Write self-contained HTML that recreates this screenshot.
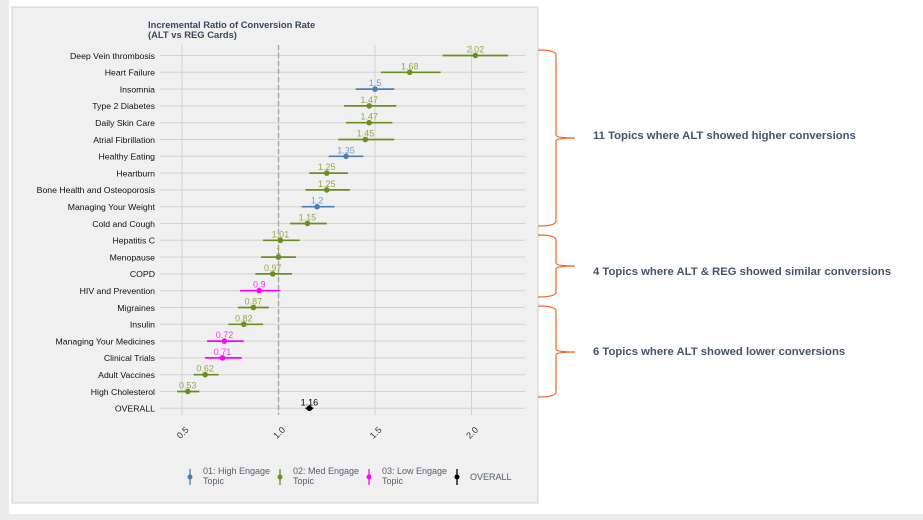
<!DOCTYPE html>
<html><head><meta charset="utf-8"><style>
body{margin:0;background:#fff;width:923px;height:520px;overflow:hidden;font-family:"Liberation Sans",sans-serif}
</style></head><body>
<svg id="c" width="923" height="520" style="position:absolute;left:0;top:0">
<rect x="0" y="0" width="923" height="520" fill="#fff"/>
<rect x="0" y="0" width="9" height="520" fill="#ececec"/>
<rect x="0" y="514" width="923" height="6" fill="#ececec"/>
<rect x="12" y="7" width="526" height="496" fill="#f0f0f0" stroke="#d0d0d0"/>
<text x="148" y="28" font-size="9.4" font-weight="bold" fill="#3a4660">Incremental Ratio of Conversion Rate</text>
<text x="148" y="38" font-size="9.4" font-weight="bold" fill="#3a4660">(ALT vs REG Cards)</text>
<g id="grid"></g><g id="marks"></g><g id="labels"></g>
<g id="legend" font-size="9" fill="#556070"></g>
<g id="braces"></g>
</svg>
<script>
const categories=["Deep Vein thrombosis","Heart Failure","Insomnia","Type 2 Diabetes","Daily Skin Care","Atrial Fibrillation","Healthy Eating","Heartburn","Bone Health and Osteoporosis","Managing Your Weight","Cold and Cough","Hepatitis C","Menopause","COPD","HIV and Prevention","Migraines","Insulin","Managing Your Medicines","Clinical Trials","Adult Vaccines","High Cholesterol","OVERALL"];
const values=[2.02,1.68,1.5,1.47,1.47,1.45,1.35,1.25,1.25,1.2,1.15,1.01,1,0.97,0.9,0.87,0.82,0.72,0.71,0.62,0.53,1.16];
const lower=[1.85,1.53,1.40,1.34,1.35,1.31,1.26,1.16,1.14,1.12,1.06,0.92,0.91,0.88,0.80,0.79,0.74,0.63,0.62,0.56,0.475,1.14];
const upper=[2.19,1.84,1.60,1.61,1.59,1.60,1.44,1.36,1.37,1.29,1.25,1.11,1.09,1.07,1.01,0.95,0.92,0.82,0.81,0.69,0.59,1.18];
const groups=[2,2,1,2,2,2,1,2,2,1,2,2,2,2,3,2,2,3,3,2,2,0];
const xTicks=[0.5,1.0,1.5,2.0];
const xTickLabels=["0.5","1.0","1.5","2.0"];
const legendLabels=[["01: High Engage","Topic"],["02: Med Engage","Topic"],["03: Low Engage","Topic"],["OVERALL"]];
const colors={0:"#000",1:"#4a7fb5",2:"#6b8e23",3:"#ff00ff"};
const labelColors={0:"#000",1:"#6f9ccc",2:"#9aa645",3:"#ff33ff"};
const NS="http://www.w3.org/2000/svg";
const x=v=>182+(v-0.5)*193;
const y=i=>55.5+i*16.8;
function mk(p,t,a){const e=document.createElementNS(NS,t);for(const k in a)e.setAttribute(k,a[k]);document.getElementById(p).appendChild(e);return e;}
xTicks.forEach((t,i)=>{
 let l=mk('grid','line',{x1:x(t),x2:x(t),y1:45,y2:415,stroke:'#d2d2d2','stroke-width':1});
 
 
 let tx=mk('grid','text',{x:x(t),y:436,'font-size':9,fill:'#333','text-anchor':'middle',transform:`rotate(-45 ${x(t)} 432)`});
 tx.textContent=xTickLabels[i];
 
 
});
categories.forEach((c,i)=>{
 let l=mk('grid','line',{x1:160,x2:525,y1:y(i),y2:y(i),stroke:'#d2d2d2','stroke-width':1});
 
 
 let t=mk('labels','text',{x:155,y:y(i)+3.3,'font-size':8.7,fill:'#111','text-anchor':'end'});
 t.textContent=c;
 
 
});
let ref=mk('grid','line',{x1:x(1),x2:x(1),y1:45,y2:415,stroke:'#aaa','stroke-width':1.5,'stroke-dasharray':'5,3'});


values.forEach((v,i)=>{
 const g=groups[i];
 let b=mk('marks','line',{x1:x(lower[i]),x2:x(upper[i]),y1:y(i),y2:y(i),stroke:colors[g],'stroke-width':1.7});
 
 
 let d=mk('marks','circle',{cx:x(v),cy:y(i),r:2.8,fill:colors[g]});
 
 
 let t=mk('marks','text',{x:x(v),y:y(i)-3,'font-size':9,fill:labelColors[g],'text-anchor':'middle'});
 t.textContent=String(v);
 
 
});
const lx=[190,280,369,457],lc=[1,2,3,0];
legendLabels.forEach((lab,i)=>{
 const c=colors[lc[i]];
 let ln=mk('legend','line',{x1:lx[i],x2:lx[i],y1:469,y2:485,stroke:c,'stroke-width':1.3});
 
 
 let dt=mk('legend','circle',{cx:lx[i],cy:477,r:2.5,fill:c});
 
 
 lab.forEach((s,j)=>{
  let t=mk('legend','text',{x:lx[i]+13,y:(lab.length>1?474+j*10:480)});
  t.textContent=s;
  
  
 });
});
const braces=[[50,226,138,135,"11 Topics where ALT showed higher conversions"],[235,297,266,271,"4 Topics where ALT & REG showed similar conversions"],[306,397,352,351,"6 Topics where ALT showed lower conversions"]];
braces.forEach(b=>{
 const [a,e,m,ty,s]=b;
 let p=mk('braces','path',{d:`M538 ${a} Q556 ${a} 556 ${a+5} L556 ${m-3} Q556 ${m} 575 ${m} Q556 ${m} 556 ${m+3} L556 ${e-5} Q556 ${e} 538 ${e}`,fill:'none',stroke:'#f26522','stroke-width':1.2});
 
 
 let t=mk('braces','text',{x:593,y:ty+4,'font-size':11.3,'font-weight':'bold',fill:'#44546a'});
 t.textContent=s;
 
 
});
</script>
</body></html>
